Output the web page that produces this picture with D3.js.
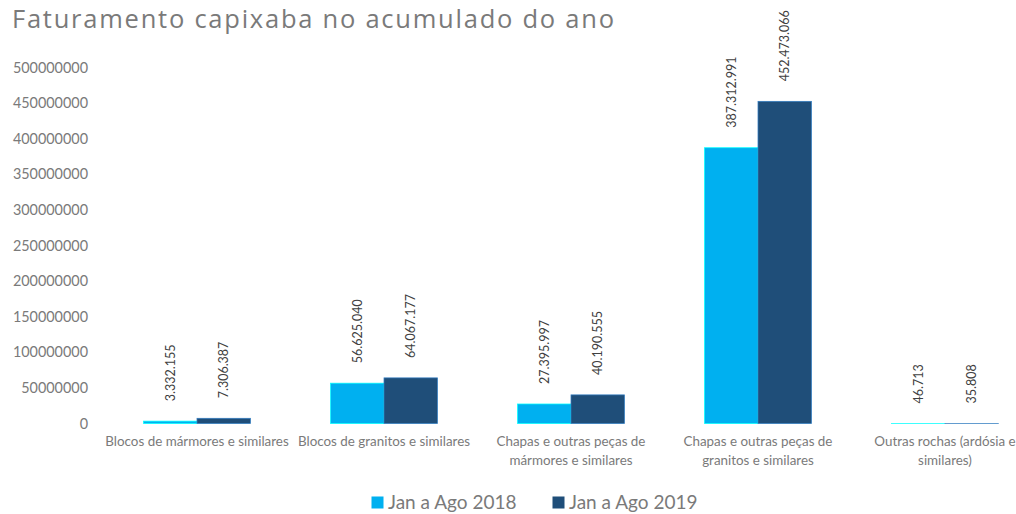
<!DOCTYPE html>
<html>
<head>
<meta charset="utf-8">
<script src="https://cdn.jsdelivr.net/npm/d3@7"></script>
<style>
  body { margin: 0; background: #fff; }
  svg { display: block; font-family: Lato, 'Open Sans', sans-serif; }
</style>
</head>
<body>
<div id="chart"></div>
<script>
const categories = [
  'Blocos de mármores e similares',
  'Blocos de granitos e similares',
  'Chapas e outras peças de\nmármores e similares',
  'Chapas e outras peças de\ngranitos e similares',
  'Outras rochas (ardósia e\nsimilares)'
];
const seriesNames = ['Jan a Ago 2018', 'Jan a Ago 2019'];
const values2018 = [3332155, 56625040, 27395997, 387312991, 46713];
const values2019 = [7306387, 64067177, 40190555, 452473066, 35808];
const yTicks = [0, 50000000, 100000000, 150000000, 200000000, 250000000, 300000000, 350000000, 400000000, 450000000, 500000000];

const colors = ['#00b0f0', '#1f4e79'];
const textColor = '#7a7a7a';

const width = 1016;
const height = 514;

const rows = categories.map((c, i) => ({ category: c, values: [values2018[i], values2019[i]] }));

const ptBR = d3.formatLocale({ decimal: ',', thousands: '.', grouping: [3], currency: ['R$', ''] });
const fmtLabel = ptBR.format(',d');

const svg = d3.select('#chart')
  .append('svg')
  .attr('width', width)
  .attr('height', height)
  .attr('viewBox', `0 0 ${width} ${height}`);

// the plot runs past the right edge, as in the original crop
const x = d3.scaleBand()
  .domain(categories)
  .range([103.5, 1038.5])
  .padding(0);

const xSub = d3.scaleBand()
  .domain([0, 1])
  .range([0, x.bandwidth()])
  .paddingInner(0)
  .paddingOuter(0.75);

const y = d3.scaleLinear()
  .domain([0, 500000000])
  .range([423.5, 67.5]);

// title: a bit of letter spacing to reach the original's width
const titleText = 'Faturamento capixaba no acumulado do ano';
const title = svg.append('text')
  .attr('x', 12)
  .attr('y', 27.5)
  .attr('font-family', "'Open Sans', sans-serif")
  .attr('font-size', 25.5)
  .attr('fill', textColor)
  .text(titleText);
const tw = title.node().getComputedTextLength();
title.attr('letter-spacing', Math.max(0, (602 - tw) / (titleText.length - 1)));

// y axis, labels only
const yAxis = svg.append('g')
  .attr('transform', 'translate(88,0)')
  .call(d3.axisLeft(y).tickValues(yTicks).tickFormat(d3.format('d')).tickSize(0).tickPadding(0));
yAxis.select('.domain').remove();
yAxis.selectAll('text')
  .attr('font-size', 14.4)
  .attr('fill', textColor)
  .attr('font-family', 'Lato, sans-serif');

// bars
const groups = svg.append('g')
  .selectAll('g')
  .data(rows)
  .join('g')
  .attr('transform', (d) => `translate(${x(d.category)},0)`);

groups.selectAll('rect')
  .data((d) => d.values.map((v, i) => ({ v, i })))
  .join('rect')
  .attr('x', (d) => xSub(d.i))
  .attr('y', (d) => y(d.v))
  .attr('width', xSub.bandwidth())
  .attr('height', (d) => y(0) - y(d.v))
  .attr('fill', (d) => colors[d.i])
  .attr('stroke', (d) => d3.color(colors[d.i]).brighter(1.3))
  .attr('stroke-width', 0.75);

// rotated value labels
groups.selectAll('text.value')
  .data((d) => d.values.map((v, i) => ({ v, i })))
  .join('text')
  .attr('class', 'value')
  .attr('transform', (d) => `translate(${xSub(d.i) + xSub.bandwidth() / 2 + 4.5},${y(d.v) - 20}) rotate(-90)`)
  .attr('font-size', 12.5)
  .attr('fill', '#404040')
  .text((d) => fmtLabel(d.v));

// category labels
const catLabels = svg.append('g')
  .selectAll('text')
  .data(categories)
  .join('text')
  .attr('x', (d) => x(d) + x.bandwidth() / 2)
  .attr('y', 446)
  .attr('text-anchor', 'middle')
  .attr('font-size', 13.4)
  .attr('fill', textColor);

catLabels.selectAll('tspan')
  .data((d) => d.split('\n'))
  .join('tspan')
  .attr('x', function () { return d3.select(this.parentNode).attr('x'); })
  .attr('dy', (d, i) => (i === 0 ? 0 : 19))
  .text((d) => d);

// legend
const legendX = [371.5, 552.5];
const legend = svg.append('g')
  .selectAll('g')
  .data(seriesNames)
  .join('g')
  .attr('transform', (d, i) => `translate(${legendX[i]},496.5)`);

legend.append('rect')
  .attr('width', 12)
  .attr('height', 12)
  .attr('fill', (d, i) => colors[i]);

legend.append('text')
  .attr('x', 16.5)
  .attr('y', 12.5)
  .attr('font-size', 19)
  .attr('fill', textColor)
  .text((d) => d);
</script>
</body>
</html>
